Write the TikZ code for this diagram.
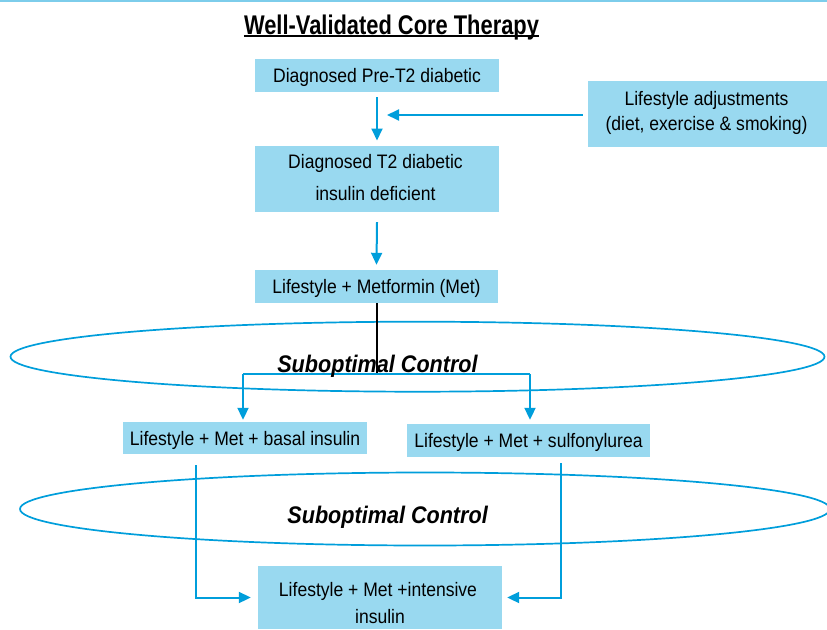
\documentclass[tikz,border=0pt]{standalone}
\usepackage{fontspec}
\setmainfont{Liberation Sans}
\newfontfamily\bodyfont{Liberation Sans}[FakeStretch=0.9]
\newfontfamily\headfont{Liberation Sans}[FakeStretch=0.81]
\usetikzlibrary{arrows.meta}
\definecolor{boxfill}{RGB}{153,217,240}
\definecolor{flow}{RGB}{0,158,219}
\definecolor{toprule}{RGB}{125,205,235}

\begin{document}
\begin{tikzpicture}[x=1pt,y=-1pt,
  box/.style={fill=boxfill, draw=none, inner sep=0pt, minimum width=244pt,
    minimum height=33pt, font=\bodyfont\fontsize{19.5}{23}\selectfont,
    text height=14pt, text depth=0pt},
  txt/.style={inner sep=0pt, anchor=base, font=\bodyfont\fontsize{19.5}{23}\selectfont},
  flowline/.style={draw=flow, line width=2pt},
  flowarrow/.style={flowline, -{Triangle[length=12pt,width=11pt]}},
  loopline/.style={draw=flow, line width=1.7pt},
  subtext/.style={inner sep=0pt, anchor=base,
    font=\bodyfont\fontsize{24}{27}\selectfont\bfseries\itshape}]

\useasboundingbox (0,0) rectangle (827,629);

% thin rule along the top edge
\draw[toprule, line width=1.5pt] (0,0.75) -- (827,0.75);

% heading
\node[inner sep=0pt, anchor=base, font=\headfont\fontsize{27}{30}\selectfont\bfseries]
  (title) at (391.5,34.3) {Well-Validated Core Therapy};
\draw[line width=2.2pt] ([yshift=-2pt]title.base west) -- ([yshift=-2pt]title.base east);

% "suboptimal control" loops
\draw[loopline] (417.5,356.7) ellipse [x radius=407, y radius=35];
\draw[loopline] (425,509) ellipse [x radius=405, y radius=36.5];

% boxes
\node[box] (b1) at (377,75.5) {Diagnosed Pre-T2 diabetic};
\node[box, minimum height=66pt] (b2) at (377,179) {};
\node[txt] (b2a) at (375.5,168) {Diagnosed T2 diabetic};
\node[txt] (b2b) at (375.5,200) {insulin deficient};
\node[box, minimum width=240pt, minimum height=66pt] (adj) at (708,114) {};
\node[txt] (adja) at (706.5,105) {Lifestyle adjustments};
\node[txt] (adjb) at (706.5,130) {(diet, exercise \& smoking)};
\node[box, minimum width=243pt] (b3) at (376.5,286.5) {Lifestyle + Metformin (Met)};
\node[box, minimum height=32pt] (b4) at (245,438) {Lifestyle + Met + basal insulin};
\node[box, minimum width=243pt] (b5) at (528.5,440.5) {Lifestyle + Met + sulfonylurea};
\node[box, minimum height=63pt] (b6) at (380,597.5) {};
\node[txt] (b6a) at (378,596) {Lifestyle + Met +intensive};
\node[txt] (b6b) at (380,623) {insulin};

% connectors
\coordinate (join) at (387,115);
\coordinate (split) at (376.5,374);
\coordinate (left) at (243,374);
\coordinate (right) at (530,374);

\draw[flowarrow] ([yshift=-5pt]b1.south) -- ([yshift=5.3pt]b2.north);
\draw[flowarrow] ([xshift=-5pt,yshift=-1pt]adj.west) -- (join);
\draw[flowarrow] ([yshift=-10pt]b2.south) -- ([yshift=5pt]b3.north);
\draw[line width=2pt] (b3.south) -- (split);
\draw[flowline] (left) -- (right);
\draw[flowarrow, shorten >=2pt] (left) -- (left |- b4.north);
\draw[flowarrow, shorten >=4pt] (right) -- (right |- b5.north);
\draw[flowarrow, shorten >=7pt] ([xshift=-49pt,yshift=-11pt]b4.south) |- (b6.west);
\draw[flowarrow, shorten >=5pt] ([xshift=32.5pt,yshift=-6pt]b5.south) |- (b6.east);

% loop captions
\node[subtext] (sub1) at (377.5,372) {Suboptimal Control};
\node[subtext] (sub2) at (387.6,523) {Suboptimal Control};

\end{tikzpicture}
\end{document}
